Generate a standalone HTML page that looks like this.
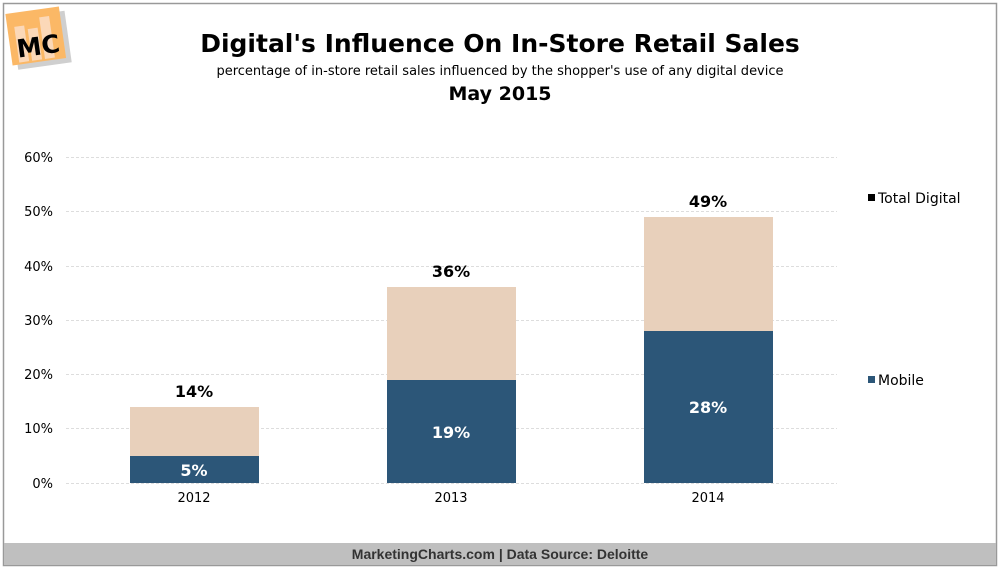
<!DOCTYPE html>
<html><head><meta charset="utf-8"><style>
html,body{margin:0;padding:0;background:#fff;}
svg{display:block;font-family:"DejaVu Sans","Liberation Sans",sans-serif;}
</style></head><body>
<svg width="1000" height="570" viewBox="0 0 1000 570" xmlns="http://www.w3.org/2000/svg">
<rect x="0" y="0" width="1000" height="570" fill="#fff"/>
<rect x="3.5" y="3.5" width="993" height="562" fill="#fff" stroke="#999" stroke-width="1.5"/>
<rect x="4" y="543" width="992" height="22" fill="#bfbfbf"/>
<text x="500" y="559" text-anchor="middle" font-size="14" font-weight="bold" fill="#333" font-family="'Liberation Sans',sans-serif">MarketingCharts.com | Data Source: Deloitte</text>
<!-- logo -->
<g transform="rotate(-8 36 38)">
<rect x="11" y="12" width="54" height="52" fill="#cfcfcf" transform="translate(3,3)"/>
<rect x="9" y="10" width="54" height="52" fill="#fbb866"/>
<rect x="16" y="24" width="10" height="36" fill="#fbd8b8"/>
<rect x="29" y="28" width="10" height="32" fill="#fbd8b8"/>
<rect x="42" y="18" width="10" height="42" fill="#fbd8b8"/>
<text x="37" y="55" text-anchor="middle" font-size="25" font-weight="bold" fill="#000">MC</text>
</g>
<text x="500" y="52" text-anchor="middle" font-size="25" font-weight="bold" fill="#000">Digital's Influence On In-Store Retail Sales</text>
<text x="500" y="75" text-anchor="middle" font-size="13" fill="#000">percentage of in-store retail sales influenced by the shopper's use of any digital device</text>
<text x="500" y="100" text-anchor="middle" font-size="19" font-weight="bold" fill="#000">May 2015</text>
<g stroke="#ddd" stroke-width="1" stroke-dasharray="3,2">
<line x1="66" x2="837" y1="157.5" y2="157.5"/>
<line x1="66" x2="837" y1="211.5" y2="211.5"/>
<line x1="66" x2="837" y1="266.5" y2="266.5"/>
<line x1="66" x2="837" y1="320.5" y2="320.5"/>
<line x1="66" x2="837" y1="374.5" y2="374.5"/>
<line x1="66" x2="837" y1="428.5" y2="428.5"/>
<line x1="66" x2="837" y1="483.5" y2="483.5"/>
</g>
<g font-size="13" text-anchor="end" fill="#000">
<text x="53" y="162">60%</text>
<text x="53" y="216">50%</text>
<text x="53" y="271">40%</text>
<text x="53" y="325">30%</text>
<text x="53" y="379">20%</text>
<text x="53" y="433">10%</text>
<text x="53" y="488">0%</text>
</g>
<g fill="#e8d0bb">
<rect x="130" y="407" width="129" height="76"/>
<rect x="387" y="287" width="129" height="196"/>
<rect x="644" y="217" width="129" height="266"/>
</g>
<g fill="#2c5678">
<rect x="130" y="456" width="129" height="27"/>
<rect x="387" y="380" width="129" height="103"/>
<rect x="644" y="331" width="129" height="152"/>
</g>
<g font-size="16" font-weight="bold" text-anchor="middle">
<text x="194" y="397" fill="#000">14%</text>
<text x="451" y="277" fill="#000">36%</text>
<text x="708" y="207" fill="#000">49%</text>
<text x="194" y="476" fill="#fff">5%</text>
<text x="451" y="438" fill="#fff">19%</text>
<text x="708" y="413" fill="#fff">28%</text>
</g>
<g font-size="13" text-anchor="middle" fill="#000">
<text x="194" y="502">2012</text>
<text x="451" y="502">2013</text>
<text x="708" y="502">2014</text>
</g>
<rect x="868" y="194" width="7" height="7" fill="#000"/>
<text x="878" y="203" font-size="14" fill="#000">Total Digital</text>
<rect x="868" y="376" width="7" height="7" fill="#2c5678"/>
<text x="878" y="385" font-size="14" fill="#000">Mobile</text>
</svg>
</body></html>
